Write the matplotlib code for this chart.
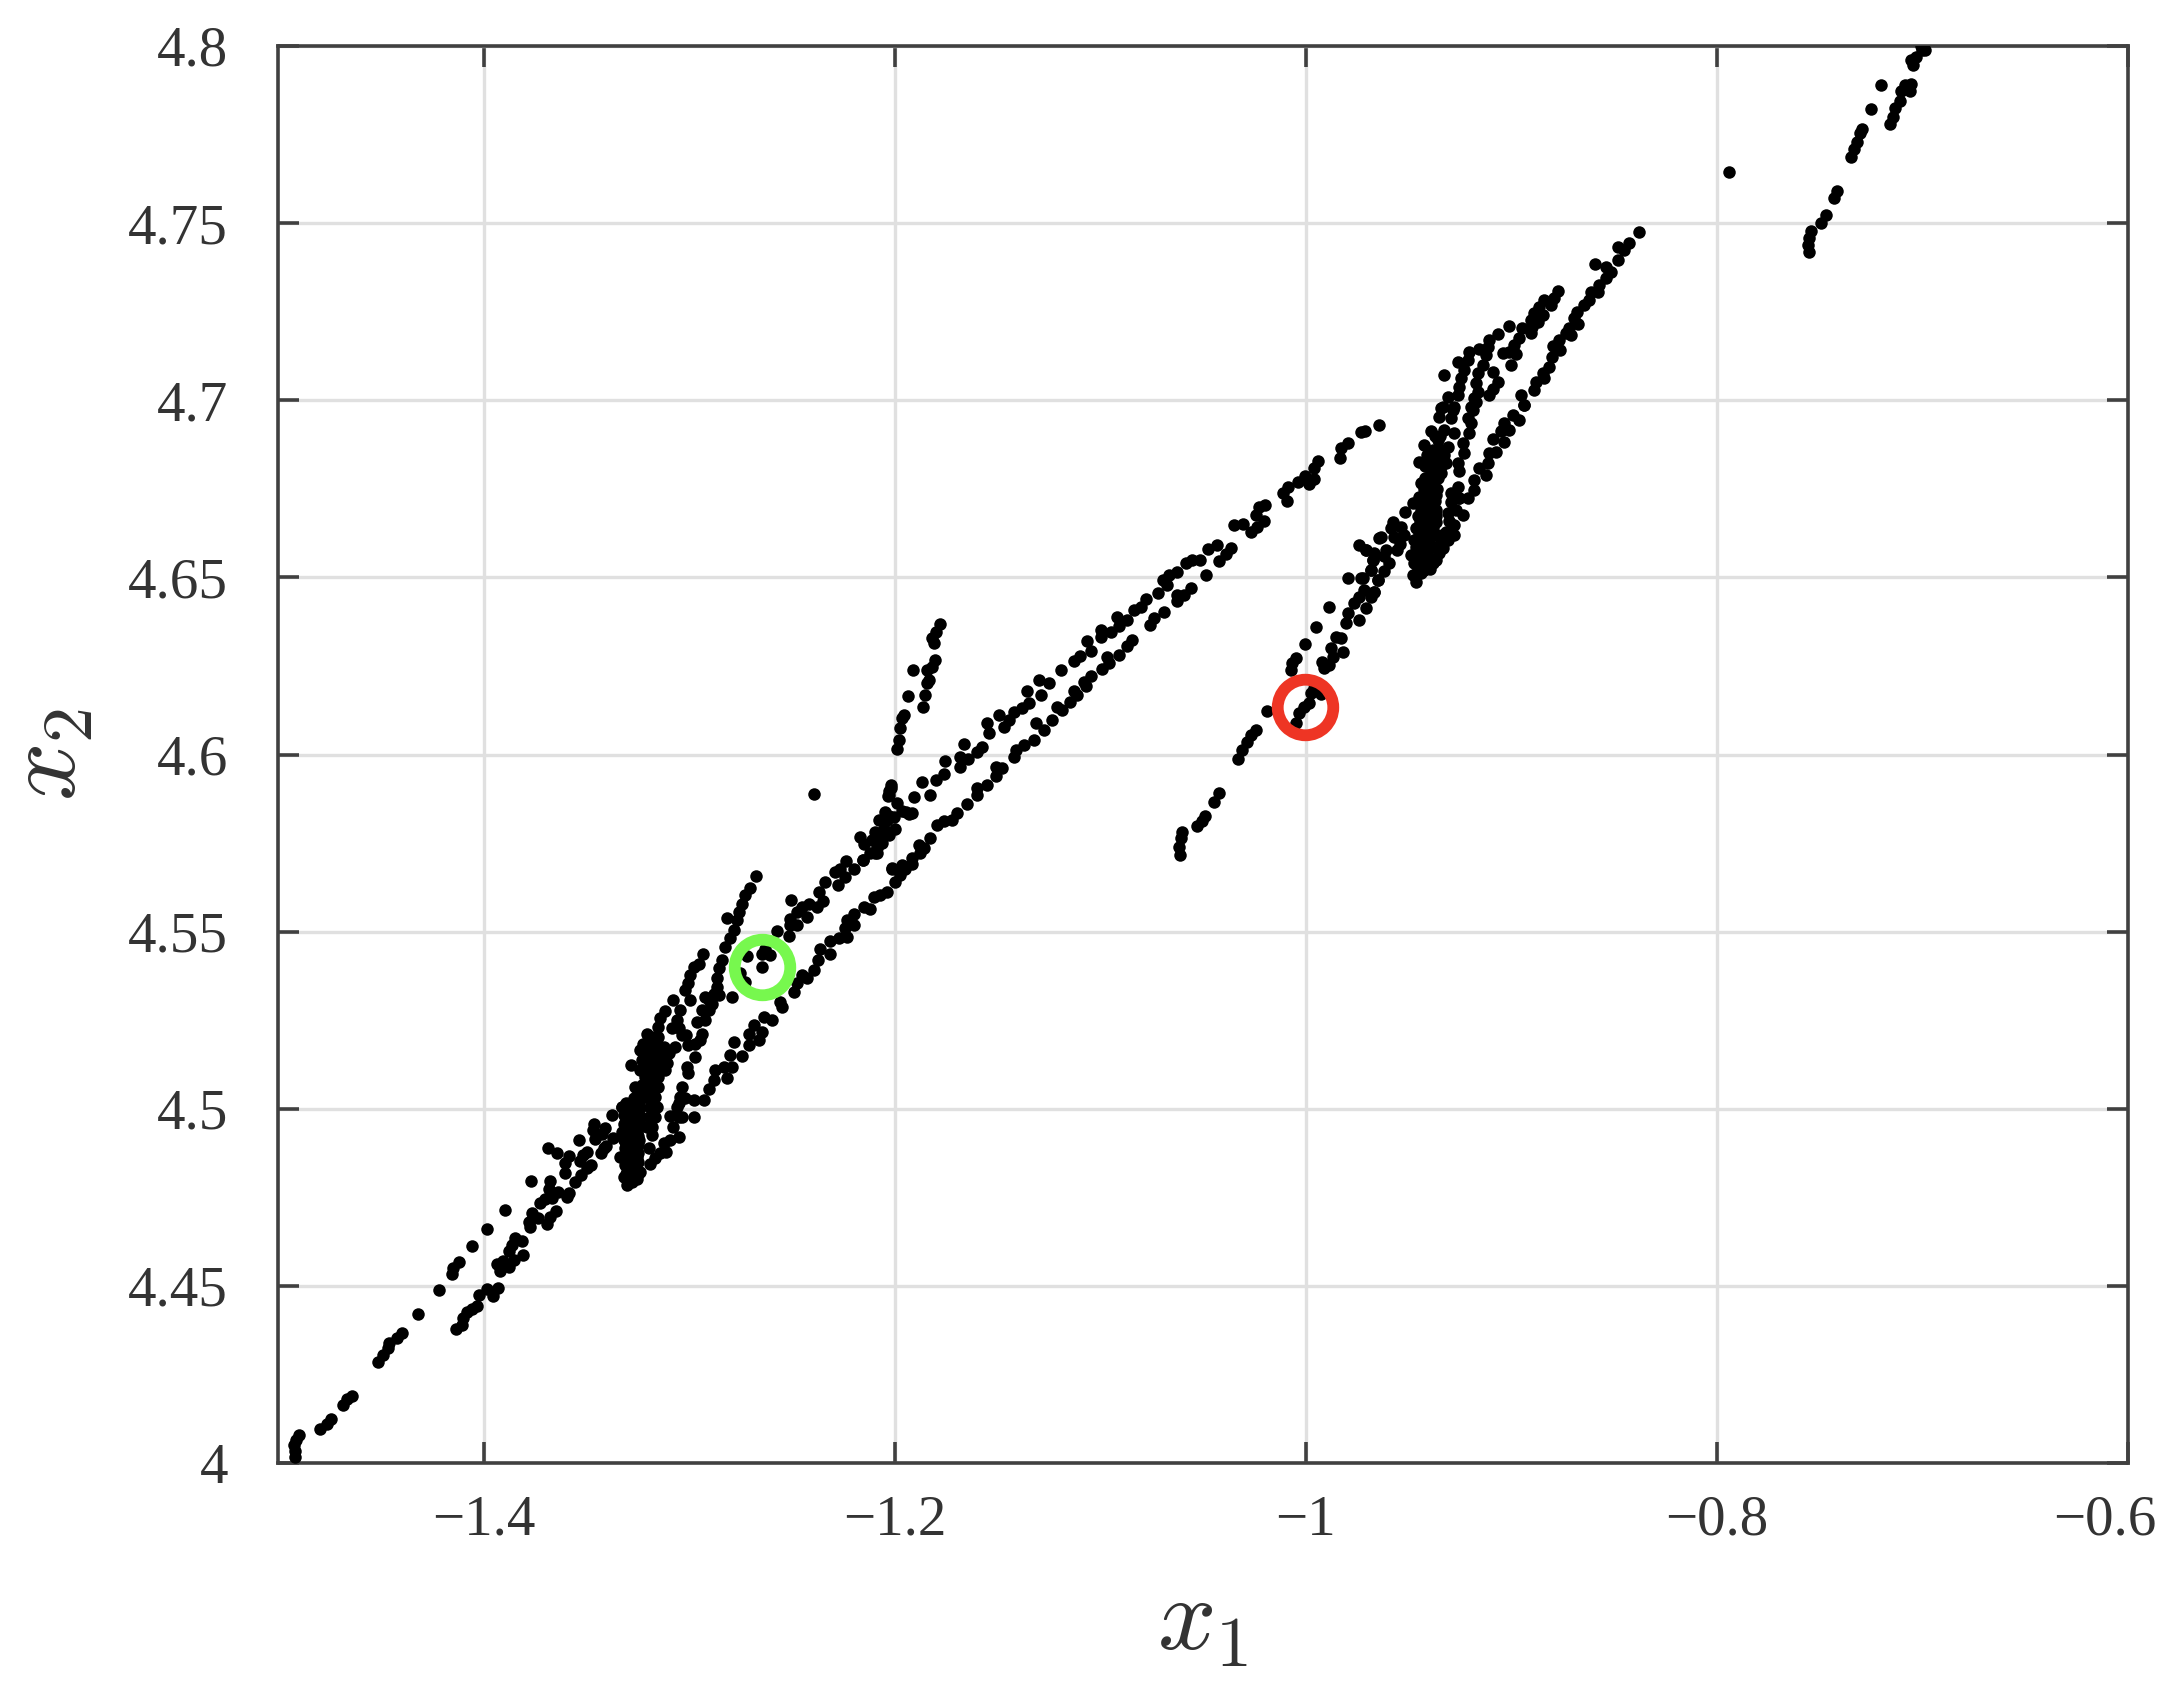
import matplotlib
matplotlib.use("Agg")
import matplotlib.pyplot as plt
from matplotlib.transforms import ScaledTranslation

# points, strand by strand
tail_x = [-1.4916, -1.4919, -1.4922, -1.4912, -1.4899, -1.4796, -1.4760, -1.4742, -1.4685, -1.4663, -1.4641,
          -1.4515, -1.4487, -1.4463, -1.4458, -1.4422, -1.4398, -1.4318, -1.4219, -1.4155, -1.4148, -1.4121,
          -1.4056, -1.3983, -1.3897, -1.3770]
tail_y = [4.4018, 4.4035, 4.4051, 4.4065, 4.4078, 4.4097, 4.4110, 4.4125, 4.4165, 4.4180, 4.4190,
          4.4285, 4.4304, 4.4324, 4.4340, 4.4352, 4.4368, 4.4421, 4.4488, 4.4533, 4.4550, 4.4568,
          4.4612, 4.4660, 4.4715, 4.4796]

low_left_x = [-1.4133, -1.4106, -1.4101, -1.4082, -1.4057, -1.4033, -1.4020, -1.3984, -1.3952, -1.3932, -1.3922,
              -1.3935, -1.3906, -1.3877, -1.3854, -1.3877, -1.3806, -1.3846, -1.3814, -1.3862, -1.3773, -1.3781,
              -1.3765, -1.3733, -1.3692, -1.3676, -1.3647, -1.3724, -1.3700, -1.3668, -1.3684, -1.3676, -1.3640,
              -1.3595, -1.3583, -1.3557, -1.3525, -1.3497, -1.3478, -1.3603, -1.3603, -1.3583, -1.3643, -1.3686,
              -1.3530, -1.3514, -1.3497, -1.3538, -1.3429, -1.3416, -1.3403, -1.3372, -1.3457, -1.3468, -1.3462,
              -1.3408, -1.3424, -1.3374, -1.3327]
low_left_y = [4.4378, 4.4389, 4.4408, 4.4427, 4.4436, 4.4443, 4.4474, 4.4492, 4.4471, 4.4494, 4.4543,
              4.4561, 4.4570, 4.4554, 4.4573, 4.4599, 4.4587, 4.4634, 4.4627, 4.4615, 4.4667, 4.4681,
              4.4705, 4.4691, 4.4675, 4.4695, 4.4712, 4.4733, 4.4745, 4.4747, 4.4773, 4.4797, 4.4764,
              4.4752, 4.4763, 4.4792, 4.4813, 4.4832, 4.4841, 4.4820, 4.4848, 4.4868, 4.4876, 4.4888,
              4.4853, 4.4869, 4.4879, 4.4912, 4.4874, 4.4888, 4.4896, 4.4918, 4.4914, 4.4940, 4.4957,
              4.4947, 4.4929, 4.4982, 4.5006]

dense1_x = [-1.3300, -1.3278, -1.3254, -1.3238, -1.3319, -1.3303, -1.3270, -1.3287, -1.3311, -1.3262, -1.3335,
            -1.3295, -1.3254, -1.3287, -1.3311, -1.3262, -1.3319, -1.3287, -1.3246, -1.3327, -1.3295, -1.3254,
            -1.3319, -1.3287, -1.3246, -1.3319, -1.3278, -1.3238, -1.3327, -1.3278, -1.3238, -1.3270, -1.3230,
            -1.3205, -1.3197, -1.3189, -1.3197, -1.3181, -1.3181, -1.3165, -1.3157, -1.3165, -1.3262, -1.3230,
            -1.3214, -1.3238, -1.3230, -1.3238, -1.3214, -1.3222, -1.3205, -1.3197, -1.3181, -1.3165, -1.3140,
            -1.3132, -1.3165, -1.3116, -1.3149, -1.3181, -1.3108, -1.3100, -1.3067, -1.3124, -1.3149, -1.3149,
            -1.3140, -1.3116, -1.3181, -1.3157, -1.3189, -1.3283,
            -1.3305, -1.3275, -1.3250, -1.3305, -1.3275, -1.3250, -1.3305, -1.3275, -1.3250, -1.3305, -1.3275,
            -1.3250, -1.3305, -1.3275, -1.3250, -1.3305, -1.3275, -1.3250, -1.3305, -1.3275, -1.3250, -1.3305,
            -1.3275, -1.3250, -1.3305, -1.3275, -1.3250,
            -1.3200, -1.3175, -1.3150, -1.3125, -1.3190, -1.3170, -1.3145, -1.3195, -1.3170, -1.3150, -1.3120,
            -1.3225, -1.3250, -1.3225, -1.3205, -1.3180, -1.3150]
dense1_y = [4.4786, 4.4794, 4.4803, 4.4822, 4.4808, 4.4822, 4.4822, 4.4836, 4.4841, 4.4845, 4.4864,
            4.4860, 4.4864, 4.4883, 4.4888, 4.4888, 4.4911, 4.4907, 4.4911, 4.4935, 4.4930, 4.4935,
            4.4958, 4.4954, 4.4958, 4.4982, 4.4977, 4.4977, 4.5005, 4.5001, 4.5001, 4.5029, 4.5029,
            4.4949, 4.4977, 4.5005, 4.5034, 4.4925, 4.4949, 4.4977, 4.5005, 4.5034, 4.5062, 4.5067,
            4.5090, 4.5109, 4.5137, 4.5165, 4.5165, 4.5184, 4.5212, 4.5194, 4.5203, 4.5175, 4.5156,
            4.5128, 4.5128, 4.5109, 4.5090, 4.5100, 4.5128, 4.5156, 4.5175, 4.5175, 4.5203, 4.5231,
            4.5255, 4.5276, 4.5147, 4.5109, 4.5071, 4.5123,
            4.4815, 4.4815, 4.4815, 4.4850, 4.4850, 4.4850, 4.4875, 4.4875, 4.4875, 4.4898, 4.4898,
            4.4898, 4.4922, 4.4922, 4.4922, 4.4945, 4.4945, 4.4945, 4.4968, 4.4968, 4.4968, 4.4992,
            4.4992, 4.4992, 4.5016, 4.5016, 4.5016,
            4.5120, 4.5140, 4.5150, 4.5150, 4.5155, 4.5170, 4.5175, 4.5095, 4.5080, 4.5120, 4.5125,
            4.5040, 4.5045, 4.5060, 4.5050, 4.5060, 4.5060]

strand1_x = [-1.3043, -1.3059, -1.3084, -1.3051, -1.3035, -1.3014, -1.3076, -1.2994, -1.3019, -1.3007, -1.2994,
             -1.2978, -1.2954, -1.2933, -1.2970, -1.3003, -1.2970, -1.2946, -1.2938, -1.2962, -1.2921, -1.2938,
             -1.2905, -1.2921, -1.2881, -1.2865, -1.2865, -1.2856, -1.2840, -1.2824, -1.2800, -1.2783, -1.2767,
             -1.2759, -1.2816, -1.2743, -1.2727, -1.2702, -1.2675, -1.2889, -1.2856, -1.2905]
strand1_y = [4.5278, 4.5250, 4.5227, 4.5227, 4.5208, 4.5208, 4.5307, 4.5307, 4.5335, 4.5354, 4.5377,
             4.5401, 4.5410, 4.5438, 4.5147, 4.5180, 4.5184, 4.5194, 4.5212, 4.5245, 4.5250, 4.5278,
             4.5278, 4.5316, 4.5325, 4.5344, 4.5368, 4.5396, 4.5419, 4.5457, 4.5481, 4.5504, 4.5532,
             4.5556, 4.5539, 4.5579, 4.5603, 4.5622, 4.5658, 4.5297, 4.5321, 4.5307]

vee1_x = [-1.3189, -1.3165, -1.3197, -1.3140, -1.3111, -1.3124, -1.3092, -1.3051, -1.3076, -1.3092, -1.3051,
          -1.3035, -1.2978, -1.3059, -1.3043, -1.3035, -1.3003, -1.3011, -1.3051, -1.3019, -1.2978, -1.2930,
          -1.2905, -1.2881, -1.2873, -1.2816, -1.2832, -1.2792, -1.2800, -1.2743, -1.2783, -1.2710, -1.2662,
          -1.2710, -1.2686, -1.2646, -1.2637, -1.2597, -1.2548, -1.2556]
vee1_y = [4.4845, 4.4860, 4.4888, 4.4874, 4.4878, 4.4902, 4.4911, 4.4921, 4.4949, 4.4979, 4.4977,
          4.4977, 4.4977, 4.5005, 4.5034, 4.5062, 4.5100, 4.5118, 4.5015, 4.5029, 4.5024, 4.5024,
          4.5057, 4.5081, 4.5109, 4.5086, 4.5118, 4.5118, 4.5151, 4.5148, 4.5189, 4.5180, 4.5194,
          4.5212, 4.5236, 4.5217, 4.5259, 4.5250, 4.5288, 4.5302]

near_green_x = [-1.2719, -1.2646, -1.2629, -1.2605, -1.2646, -1.2751, -1.2727, -1.2792, -1.2394]
near_green_y = [4.5431, 4.5438, 4.5452, 4.5433, 4.5401, 4.5382, 4.5358, 4.5316, 4.5888]

lower_x = [-1.2491, -1.2475, -1.2426, -1.2451, -1.2394, -1.2374, -1.2361, -1.2313, -1.2316, -1.2272, -1.2232,
           -1.2240, -1.2199, -1.2232, -1.2199, -1.2150, -1.2118, -1.2102, -1.2069, -1.2037, -1.1996, -1.1972,
           -1.2012, -1.1948, -1.1915, -1.1875, -1.2012, -1.1964, -1.1915, -1.1882, -1.1858, -1.1826, -1.1793,
           -1.1761, -1.1720, -1.1696, -1.1650, -1.1598, -1.1598, -1.1550, -1.1509, -1.1509, -1.1477, -1.1420,
           -1.1412, -1.1371, -1.1322, -1.1314, -1.1274, -1.1233, -1.1209, -1.1184, -1.1147, -1.1111, -1.1128,
           -1.1071, -1.1079, -1.1043, -1.0990, -1.0957, -1.0965, -1.0909, -1.0871, -1.0844, -1.0758, -1.0738,
           -1.0689, -1.0628, -1.0625, -1.0592, -1.0556, -1.0487]
lower_y = [4.5330, 4.5354, 4.5368, 4.5377, 4.5391, 4.5419, 4.5452, 4.5438, 4.5474, 4.5481, 4.5485,
           4.5509, 4.5518, 4.5532, 4.5551, 4.5570, 4.5565, 4.5598, 4.5603, 4.5612, 4.5641, 4.5659,
           4.5678, 4.5678, 4.5692, 4.5721, 4.5679, 4.5688, 4.5707, 4.5745, 4.5735, 4.5764, 4.5801,
           4.5811, 4.5815, 4.5836, 4.5860, 4.5886, 4.5905, 4.5914, 4.5938, 4.5966, 4.5963, 4.5994,
           4.6013, 4.6027, 4.6041, 4.6088, 4.6069, 4.6098, 4.6135, 4.6126, 4.6149, 4.6168, 4.6178,
           4.6192, 4.6206, 4.6222, 4.6241, 4.6258, 4.6276, 4.6281, 4.6305, 4.6323, 4.6366, 4.6385,
           4.6402, 4.6432, 4.6451, 4.6451, 4.6469, 4.6507]

upper_x = [-1.2572, -1.2516, -1.2508, -1.2475, -1.2508, -1.2475, -1.2426, -1.2451, -1.2418, -1.2378, -1.2348,
           -1.2366, -1.2504, -1.2337, -1.2275, -1.2288, -1.2264, -1.2235, -1.2240, -1.2196, -1.2154, -1.2094,
           -1.2170, -1.2150, -1.2155, -1.2110, -1.2118, -1.2085, -1.2085, -1.2069, -1.2061, -1.2094, -1.2077,
           -1.2053, -1.2037, -1.2045, -1.2029, -1.2004, -1.1996, -1.2028, -1.1988, -1.1964, -1.1931, -1.1947,
           -1.1915, -1.2020, -1.2028, -1.1907, -1.1866, -1.1826, -1.1801, -1.1761, -1.1753, -1.1683, -1.1680,
           -1.1644, -1.1663, -1.1598, -1.1574, -1.1542, -1.1550, -1.1493, -1.1468, -1.1444, -1.1420, -1.1379,
           -1.1355, -1.1347, -1.1290, -1.1298, -1.1249, -1.1193, -1.1128, -1.1098, -1.1063, -1.1047, -1.0998,
           -1.0998, -1.0946, -1.0917, -1.0909, -1.0868, -1.0836, -1.0803, -1.0776, -1.0719, -1.0693, -1.0665,
           -1.0625, -1.0673, -1.0584, -1.0552, -1.0514, -1.0478, -1.0433, -1.0362, -1.0389, -1.0422, -1.0349,
           -1.0303, -1.0267, -1.0235, -1.0203, -1.0243, -1.0227, -1.0199, -1.0113, -1.0092, -1.0086, -1.0040,
           -1.0005, -0.9983, -0.9959, -0.9959, -0.9940, -0.9832, -0.9829, -0.9793, -0.9732, -0.9712, -0.9642]
upper_y = [4.5501, 4.5487, 4.5518, 4.5518, 4.5537, 4.5556, 4.5542, 4.5570, 4.5579, 4.5570, 4.5587,
           4.5612, 4.5589, 4.5639, 4.5631, 4.5669, 4.5678, 4.5699, 4.5655, 4.5676, 4.5702, 4.5721,
           4.5768, 4.5747, 4.5702, 4.5758, 4.5723, 4.5723, 4.5735, 4.5768, 4.5749, 4.5782, 4.5815,
           4.5791, 4.5815, 4.5838, 4.5772, 4.5824, 4.5791, 4.5825, 4.5862, 4.5841, 4.5832, 4.5839,
           4.5834, 4.5905, 4.5886, 4.5881, 4.5922, 4.5886, 4.5928, 4.5944, 4.5983, 4.5966, 4.5994,
           4.5987, 4.6029, 4.6008, 4.6022, 4.6062, 4.6090, 4.6112, 4.6079, 4.6098, 4.6121, 4.6131,
           4.6180, 4.6145, 4.6168, 4.6209, 4.6203, 4.6239, 4.6265, 4.6278, 4.6319, 4.6293, 4.6352,
           4.6333, 4.6347, 4.6389, 4.6363, 4.6380, 4.6408, 4.6416, 4.6439, 4.6455, 4.6493, 4.6507,
           4.6516, 4.6479, 4.6540, 4.6549, 4.6549, 4.6579, 4.6591, 4.6582, 4.6566, 4.6547, 4.6648,
           4.6651, 4.6627, 4.6643, 4.6659, 4.6676, 4.6700, 4.6705, 4.6738, 4.6717, 4.6756, 4.6770,
           4.6786, 4.6764, 4.6777, 4.6808, 4.6829, 4.6836, 4.6865, 4.6879, 4.6910, 4.6914, 4.6930]

side_x = [-1.1988, -1.1980, -1.1972, -1.1964, -1.1955, -1.1863, -1.1853, -1.1842, -1.1834, -1.1936, -1.1910,
          -1.1842, -1.1817, -1.1806, -1.1809, -1.1817, -1.1801, -1.1780, -1.2017, -1.2029, -1.2034]
side_y = [4.6015, 4.6041, 4.6074, 4.6102, 4.6112, 4.6135, 4.6168, 4.6201, 4.6211, 4.6165, 4.6239,
          4.6239, 4.6248, 4.6267, 4.6314, 4.6328, 4.6347, 4.6368, 4.5914, 4.5898, 4.5883]

mid_x = [-1.0613, -1.0616, -1.0608, -1.0603, -1.0530, -1.0503, -1.0490, -1.0446, -1.0422, -1.0329, -1.0308,
         -1.0287, -1.0267, -1.0243, -1.0190, -1.0048, -1.0032, -1.0008, -0.9983, -0.9975, -0.9959, -0.9927,
         -1.0073, -1.0065, -1.0048, -1.0003, -0.9951, -0.9889, -0.9910, -0.9919, -0.9886, -0.9870, -0.9821,
         -0.9878, -0.9854, -0.9829, -0.9805, -0.9797, -0.9764, -0.9740, -0.9708, -0.9740, -0.9667, -0.9797,
         -0.9732, -0.9683, -0.9675, -0.9740, -0.9708, -0.9651, -0.9643]
mid_y = [4.5717, 4.5740, 4.5764, 4.5780, 4.5797, 4.5811, 4.5825, 4.5867, 4.5891, 4.5987, 4.6013,
         4.6036, 4.6055, 4.6069, 4.6123, 4.6088, 4.6116, 4.6135, 4.6145, 4.6173, 4.6187, 4.6171,
         4.6239, 4.6258, 4.6272, 4.6312, 4.6361, 4.6416, 4.6243, 4.6262, 4.6253, 4.6276, 4.6289,
         4.6300, 4.6333, 4.6328, 4.6371, 4.6399, 4.6427, 4.6446, 4.6413, 4.6380, 4.6460, 4.6498,
         4.6498, 4.6521, 4.6549, 4.6590, 4.6578, 4.6493, 4.6610]

bits2_x = [-0.9578, -0.9537, -0.9586, -0.9570, -0.9521, -0.9635, -0.9540, -0.9557, -0.9610, -0.9618, -0.9708,
           -0.9667, -0.9675, -0.9594, -0.9618, -0.9683, -0.9651, -0.9724, -0.9667, -0.9716, -0.9683]
bits2_y = [4.6657, 4.6643, 4.6639, 4.6615, 4.6620, 4.6613, 4.6594, 4.6576, 4.6577, 4.6559, 4.6577,
           4.6568, 4.6549, 4.6540, 4.6517, 4.6521, 4.6493, 4.6498, 4.6460, 4.6465, 4.6445]

dense2_x = [-0.9424, -0.9448, -0.9391, -0.9359, -0.9383, -0.9342, -0.9310, -0.9399, -0.9351, -0.9318, -0.9391,
            -0.9342, -0.9440, -0.9383, -0.9407, -0.9367, -0.9448, -0.9480, -0.9516, -0.9424, -0.9383, -0.9456,
            -0.9407, -0.9367, -0.9464, -0.9424, -0.9383, -0.9472, -0.9440, -0.9399, -0.9489, -0.9448, -0.9407,
            -0.9472, -0.9432, -0.9383, -0.9476, -0.9440, -0.9464, -0.9424, -0.9351, -0.9334, -0.9310, -0.9343,
            -0.9278, -0.9318, -0.9278, -0.9302, -0.9310, -0.9269,
            -0.9455, -0.9420, -0.9395, -0.9470, -0.9435, -0.9395, -0.9365, -0.9465, -0.9430, -0.9385, -0.9360,
            -0.9450, -0.9410, -0.9365, -0.9335, -0.9445, -0.9405, -0.9365, -0.9440, -0.9405, -0.9365, -0.9430,
            -0.9400, -0.9370, -0.9425, -0.9390, -0.9360, -0.9420, -0.9385, -0.9355, -0.9420, -0.9375, -0.9340,
            -0.9410, -0.9365, -0.9330, -0.9370, -0.9345]
dense2_y = [4.6874, 4.6827, 4.6912, 4.6888, 4.6860, 4.6860, 4.6869, 4.6832, 4.6827, 4.6822, 4.6799,
            4.6794, 4.6766, 4.6761, 4.6737, 4.6733, 4.6728, 4.6709, 4.6684, 4.6700, 4.6695, 4.6672,
            4.6667, 4.6672, 4.6639, 4.6629, 4.6639, 4.6606, 4.6596, 4.6601, 4.6563, 4.6568, 4.6559,
            4.6540, 4.6535, 4.6540, 4.6507, 4.6512, 4.6488, 4.6521, 4.6568, 4.6582, 4.6606, 4.6601,
            4.6620, 4.6629, 4.6648, 4.6658, 4.6681, 4.6690,
            4.6525, 4.6525, 4.6525, 4.6550, 4.6550, 4.6550, 4.6550, 4.6585, 4.6585, 4.6585, 4.6585,
            4.6620, 4.6620, 4.6620, 4.6620, 4.6655, 4.6655, 4.6655, 4.6690, 4.6690, 4.6690, 4.6715,
            4.6715, 4.6715, 4.6750, 4.6750, 4.6750, 4.6780, 4.6780, 4.6780, 4.6815, 4.6815, 4.6815,
            4.6845, 4.6845, 4.6845, 4.6900, 4.6900]

strand2_x = [-0.9063, -0.9107, -0.9115, -0.9159, -0.9205, -0.9123, -0.9213, -0.9258, -0.9326, -0.9140, -0.9229,
             -0.9164, -0.9091, -0.9245, -0.9172, -0.9067, -0.9253, -0.9091, -0.9164, -0.9107, -0.9307, -0.9261,
             -0.9180, -0.9334, -0.9278, -0.9196, -0.9343, -0.9351, -0.9326, -0.9286, -0.9294, -0.9278, -0.9172,
             -0.9188, -0.9213, -0.9196, -0.9204, -0.9237, -0.9229, -0.9261, -0.9253, -0.9294, -0.9261, -0.9294,
             -0.9253, -0.9213, -0.9237]
strand2_y = [4.7186, 4.7170, 4.7151, 4.7144, 4.7137, 4.7128, 4.7114, 4.7107, 4.7071, 4.7099, 4.7085,
             4.7076, 4.7079, 4.7062, 4.7048, 4.7052, 4.7038, 4.7033, 4.7024, 4.7015, 4.7008, 4.7015,
             4.7005, 4.6980, 4.6982, 4.6982, 4.6977, 4.6954, 4.6916, 4.6973, 4.6949, 4.6907, 4.6996,
             4.6973, 4.6949, 4.6935, 4.6907, 4.6879, 4.6850, 4.6822, 4.6799, 4.6737, 4.6756, 4.6714,
             4.6723, 4.6723, 4.6676]

middle2_x = [-0.8774, -0.8791, -0.8839, -0.8807, -0.8864, -0.8888, -0.8847, -0.8904, -0.8872, -0.8901, -0.8904,
             -0.8948, -0.9010, -0.8961, -0.8985, -0.8977, -0.9042, -0.9002, -0.9010]
middle2_y = [4.7309, 4.7288, 4.7283, 4.7269, 4.7264, 4.7245, 4.7241, 4.7226, 4.7222, 4.7208, 4.7189,
             4.7203, 4.7210, 4.7175, 4.7156, 4.7131, 4.7132, 4.7099, 4.7137]

right2_x = [-0.8377, -0.8426, -0.8482, -0.8450, -0.8482, -0.8591, -0.8539, -0.8515, -0.8539, -0.8572, -0.8612,
            -0.8580, -0.8620, -0.8645, -0.8680, -0.8693, -0.8677, -0.8718, -0.8734, -0.8710, -0.8766, -0.8799,
            -0.8763, -0.8804, -0.8815, -0.8847, -0.8839, -0.8880, -0.8891, -0.8953, -0.8937, -0.8937, -0.8994,
            -0.8961, -0.9034, -0.9010, -0.9050, -0.9091, -0.9034, -0.9107, -0.9075, -0.9115, -0.9156, -0.9123,
            -0.9180, -0.9180, -0.9253]
right2_y = [4.7474, 4.7443, 4.7432, 4.7424, 4.7396, 4.7386, 4.7377, 4.7363, 4.7344, 4.7325, 4.7306,
            4.7306, 4.7283, 4.7269, 4.7250, 4.7231, 4.7215, 4.7203, 4.7189, 4.7184, 4.7170, 4.7153,
            4.7142, 4.7123, 4.7095, 4.7076, 4.7062, 4.7052, 4.7029, 4.7015, 4.6986, 4.6987, 4.6959,
            4.6945, 4.6935, 4.6916, 4.6912, 4.6890, 4.6883, 4.6850, 4.6855, 4.6822, 4.6808, 4.6789,
            4.6775, 4.6747, 4.6723]

top_x = [-0.7939, -0.7552, -0.7557, -0.7554, -0.7544, -0.7492, -0.7468, -0.7431, -0.7416, -0.7350, -0.7333,
         -0.7319, -0.7306, -0.7293, -0.7251, -0.7200, -0.7156, -0.7143, -0.7135, -0.7111, -0.7103, -0.7062,
         -0.7083, -0.7054, -0.7046, -0.7054, -0.7030, -0.7002, -0.6989, -0.7005]
top_y = [4.7644, 4.7419, 4.7438, 4.7457, 4.7478, 4.7499, 4.7524, 4.7570, 4.7591, 4.7687, 4.7708,
         4.7730, 4.7753, 4.7767, 4.7823, 4.7889, 4.7779, 4.7800, 4.7824, 4.7844, 4.7873, 4.7873,
         4.7889, 4.7894, 4.7946, 4.7960, 4.7969, 4.7988, 4.7988, 4.7999]

strands = [(tail_x, tail_y), (low_left_x, low_left_y), (dense1_x, dense1_y), (strand1_x, strand1_y),
           (vee1_x, vee1_y), (near_green_x, near_green_y), (lower_x, lower_y), (upper_x, upper_y),
           (side_x, side_y), (mid_x, mid_y), (bits2_x, bits2_y), (dense2_x, dense2_y),
           (strand2_x, strand2_y), (middle2_x, middle2_y), (right2_x, right2_y), (top_x, top_y)]

red_point = (-1.0005, 4.6135)
green_point = (-1.2645, 4.5399)

x_ticks = [-1.4, -1.2, -1.0, -0.8, -0.6]
x_tick_labels = ['\u22121.4', '\u22121.2', '\u22121', '\u22120.8', '\u22120.6']
y_ticks = [4.4, 4.45, 4.5, 4.55, 4.6, 4.65, 4.7, 4.75, 4.8]
y_tick_labels = ['4', '4.45', '4.5', '4.55', '4.6', '4.65', '4.7', '4.75', '4.8']

dark = '#333333'


def main():
    plt.rcParams['font.family'] = ['Liberation Serif', 'DejaVu Serif']
    plt.rcParams['mathtext.fontset'] = 'cm'

    fig = plt.figure(figsize=(21.71, 16.88), dpi=100)
    ax = fig.add_axes([278 / 2171, 1 - 1463 / 1688, 1850 / 2171, 1417 / 1688])

    for xs, ys in strands:
        ax.plot(xs, ys, 'o', color='black', ms=9, mew=0, zorder=3)

    ax.plot(*red_point, 'o', ms=40, mfc='none', mec='#ee3524', mew=8.5, zorder=4)
    ax.plot(*green_point, 'o', ms=40, mfc='none', mec='#77f84e', mew=8.5, zorder=4)

    ax.set_xlim(-1.5, -0.6)
    ax.set_ylim(4.4, 4.8)
    ax.set_xticks(x_ticks)
    ax.set_xticklabels(x_tick_labels)
    ax.set_yticks(y_ticks)
    ax.set_yticklabels(y_tick_labels)

    ax.grid(True, color='#e0e0e0', lw=2.4)
    ax.set_axisbelow(True)
    ax.tick_params(direction='in', length=15, width=2.6, color='#404040', labelcolor=dark,
                   labelsize=41, top=True, right=True)
    ax.tick_params(axis='x', pad=23)
    ax.tick_params(axis='y', pad=36)
    for s in ax.spines.values():
        s.set_linewidth(2.6)
        s.set_color('#404040')

    # last x label sits left of its tick so it stays on the page
    last = ax.get_xticklabels()[-1]
    last.set_transform(last.get_transform() + ScaledTranslation(-17 / 72, 0, fig.dpi_scale_trans))

    ax.set_xlabel('$x_1$', fontsize=74, color=dark, labelpad=22)
    ax.set_ylabel('$x_2$', fontsize=74, color=dark, labelpad=22)

    fig.savefig('out.png', dpi=100)


if __name__ == '__main__':
    main()
